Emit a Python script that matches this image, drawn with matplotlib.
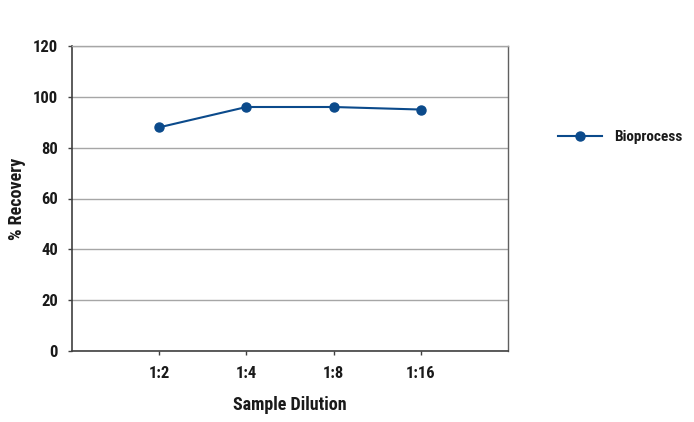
import matplotlib
matplotlib.use('Agg')
import matplotlib.pyplot as plt
from matplotlib import font_manager
from matplotlib.font_manager import FontProperties

# data
dilutions = ['1:2', '1:4', '1:8', '1:16']
recovery = [88, 96, 96, 95]
series_name = 'Bioprocess'
y_ticks = [0, 20, 40, 60, 80, 100, 120]

# look for a narrow bold face, the reference uses a condensed sans
files = [f.fname for f in font_manager.fontManager.ttflist]
font_file = None
for key in ['LiberationSansNarrow-Bold.', 'RobotoCondensed-Bold', 'OpenSans_Condensed-Bold', 'DejaVuSansCondensed-Bold.']:
    hits = [p for p in files if key in p.split('/')[-1]]
    if hits:
        font_file = hits[0]
        break


def fp(size):
    if font_file:
        return FontProperties(fname=font_file, size=size)
    return FontProperties(family='DejaVu Sans', weight='bold', size=size, stretch='condensed')


blue = '#0b4a8b'
txt = '#1a1a1a'

fig = plt.figure(figsize=(6.94, 4.22), dpi=100)
ax = fig.add_axes([72 / 694, 1 - 351 / 422, (508 - 72) / 694, (351 - 46) / 422])

x = list(range(1, len(dilutions) + 1))
line, = ax.plot(x, recovery, color=blue, lw=1.5, marker='o', ms=6.5,
                markerfacecolor=blue, markeredgecolor=blue, label=series_name)

ax.set_xlim(0, 5)
ax.set_ylim(0, 120)
ax.set_xticks(x)
ax.set_xticklabels(dilutions)
ax.set_yticks(y_ticks)
ax.yaxis.grid(True, color='#a6a6a6', lw=1)
ax.set_axisbelow(True)

for s in ['left', 'bottom']:
    ax.spines[s].set_color('#404040')
    ax.spines[s].set_linewidth(1.2)
ax.spines['right'].set_color('#606060')
ax.spines['right'].set_linewidth(1.0)
ax.spines['top'].set_color('#a6a6a6')
ax.spines['top'].set_linewidth(1.0)

ax.tick_params(axis='both', direction='out', length=3, width=1, color='#404040',
               labelcolor=txt, pad=7)
ax.tick_params(axis='x', pad=8)
for lab in ax.get_xticklabels() + ax.get_yticklabels():
    lab.set_fontproperties(fp(12))

ax.set_xlabel('Sample Dilution', fontproperties=fp(13), color=txt)
ax.set_ylabel('% Recovery', fontproperties=fp(13), color=txt)
ax.xaxis.set_label_coords(0.5, (351 - 396) / 305)
ax.yaxis.set_label_coords((26 - 72) / 436, 0.5)

leg = fig.legend(handles=[line], loc='center left', bbox_to_anchor=(558 / 694, 1 - 137 / 422),
                 frameon=False, prop=fp(11), handlelength=2.9, handletextpad=0.75,
                 borderpad=0, borderaxespad=0)
for t in leg.get_texts():
    t.set_color(txt)

fig.savefig('out.png', dpi=100)
